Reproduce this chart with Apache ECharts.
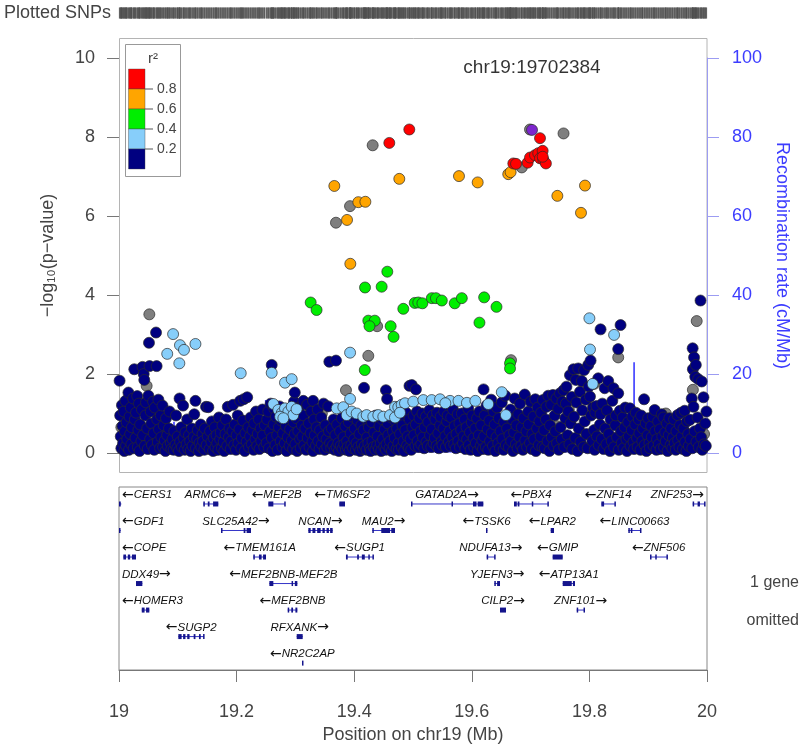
<!DOCTYPE html>
<html><head><meta charset="utf-8">
<script src="https://cdn.jsdelivr.net/npm/echarts@6/dist/echarts.min.js"></script>
<style>html,body{margin:0;padding:0;background:#fff}#c{width:800px;height:746px}</style>
</head><body><div id="c"></div>
<script>
// ---------------- DATA ----------------
const xRange = [19, 20];
const pTickMax = 10;
const recTickMax = 100;
const indexSnpName = 'chr19:19702384';
const indexSnp = [[19.702384, 8.18]];

const snpNavy = [
[19.001,1.83],[19.002,0.95],[19.003,0.42],[19.004,0.12],[19.005,1.21],[19.006,0.68],[19.007,0.25],[19.008,1.05],[19.009,0.05],[19.010,0.55],[19.011,1.32],[19.012,0.18],[19.013,0.78],[19.014,0.35],[19.016,1.53],[19.017,0.08],[19.018,0.92],[19.019,0.48],[19.020,1.15],[19.021,0.22],[19.022,0.65],[19.024,1.38],[19.025,0.12],[19.026,2.12],[19.027,0.85],[19.028,0.38],[19.029,1.02],[19.031,1.44],[19.032,0.15],[19.033,0.58],[19.034,1.25],[19.035,0.05],[19.036,0.72],[19.038,0.30],[19.039,1.10],[19.040,2.18],[19.041,0.45],[19.042,2.00],[19.043,1.85],[19.044,0.18],[19.045,0.95],[19.046,1.28],[19.048,0.62],[19.049,0.10],[19.050,1.45],[19.051,2.79],[19.052,2.20],[19.053,0.35],[19.054,1.05],[19.055,0.75],[19.056,0.20],[19.058,1.30],[19.059,0.50],[19.060,0.08],[19.061,1.15],[19.063,3.05],[19.064,2.20],[19.065,0.85],[19.066,0.28],[19.067,1.35],[19.068,0.60],[19.070,0.12],[19.071,0.95],[19.072,0.40],[19.074,1.20],[19.075,0.15],[19.076,0.70],[19.078,0.32],[19.079,0.05],[19.080,0.88],[19.082,0.45],[19.083,0.18],[19.085,0.62],[19.086,1.05],[19.088,0.25],[19.089,0.10],
[19.091,0.35],[19.093,0.08],[19.094,0.55],[19.096,0.20],[19.097,0.95],[19.099,0.12],[19.100,0.42],[19.102,0.05],[19.103,1.38],[19.104,0.28],[19.106,0.65],[19.107,0.15],[19.109,1.20],[19.110,0.38],[19.112,0.08],[19.113,0.52],[19.115,0.22],[19.116,0.85],[19.118,0.10],[19.119,0.45],[19.121,0.30],[19.122,0.05],[19.124,0.62],[19.125,0.18],[19.127,0.40],[19.128,0.98],[19.130,1.32],[19.131,0.12],[19.133,0.35],[19.134,0.58],[19.136,0.05],[19.137,0.25],[19.139,0.72],[19.140,0.15],[19.142,0.48],[19.143,0.30],[19.145,0.08],[19.146,0.62],[19.148,1.17],[19.149,0.20],[19.151,0.42],[19.152,1.16],[19.154,0.10],[19.155,0.55],[19.157,0.28],[19.158,0.80],[19.160,0.05],[19.161,0.38],[19.163,0.65],[19.164,0.15],[19.166,0.45],[19.167,0.25],[19.169,0.08],[19.170,0.90],[19.172,0.35],[19.173,0.52],[19.175,0.12],[19.176,0.70],[19.178,0.28],[19.179,0.05],[19.181,0.48],[19.182,0.85],[19.184,0.18],[19.185,1.17],[19.187,0.40],[19.188,0.62],[19.190,0.10],[19.191,0.30],[19.193,0.55],[19.194,1.22],[19.196,0.20],[19.197,0.72],[19.199,0.08],[19.200,0.45],[19.202,0.95],[19.203,0.25],[19.205,0.60],[19.206,1.32],[19.208,0.12],[19.209,0.38],[19.211,0.82],[19.212,1.36],[19.214,0.05],[19.215,0.50],[19.217,0.28],[19.218,1.41],[19.220,0.65],[19.221,0.15],[19.223,0.42],[19.224,0.90],[19.226,0.22],[19.227,0.58],[19.229,0.08],[19.230,0.75],[19.232,0.35],[19.233,1.05],[19.235,0.18],[19.236,0.48],[19.238,0.85],[19.239,0.10],[19.241,0.62],[19.242,0.30],[19.244,1.10],[19.245,0.45],[19.247,0.15],[19.248,0.70],
[19.251,0.25],[19.252,0.85],[19.254,1.05],[19.255,0.12],[19.257,0.55],[19.258,1.25],[19.2597,2.23],[19.260,0.38],[19.261,0.05],[19.263,0.72],[19.264,1.12],[19.266,0.20],[19.267,0.92],[19.269,0.45],[19.270,0.08],[19.272,0.65],[19.273,1.18],[19.275,0.30],[19.276,0.82],[19.278,0.15],[19.279,0.50],[19.281,1.02],[19.282,0.25],[19.284,0.68],[19.285,0.05],[19.287,0.40],[19.288,0.95],[19.290,0.18],[19.291,0.60],[19.293,1.08],[19.294,0.32],[19.296,0.10],[19.2976,1.30],[19.297,0.78],[19.299,1.53],[19.299,0.48],[19.300,0.22],[19.302,0.88],[19.303,0.05],[19.305,0.55],[19.306,1.15],[19.308,0.35],[19.309,0.12],[19.311,0.70],[19.312,0.42],[19.3135,1.32],[19.314,0.95],[19.315,0.20],[19.317,0.62],[19.318,0.08],[19.320,1.22],[19.321,0.38],[19.323,0.75],[19.324,0.15],[19.326,0.50],[19.327,1.05],[19.329,0.28],[19.330,1.32],[19.330,0.05],[19.332,0.85],[19.333,0.45],[19.335,0.18],[19.336,0.65],[19.338,1.10],[19.339,0.30],[19.341,0.10],[19.342,0.58],[19.344,0.90],[19.345,0.22],[19.347,0.42],[19.348,1.25],[19.350,0.08],[19.351,0.70],[19.353,0.35],[19.354,0.15],[19.356,1.18],[19.357,0.55],[19.3577,2.31],[19.359,0.25],
[19.361,0.12],[19.362,0.62],[19.364,0.20],[19.365,0.85],[19.367,0.08],[19.368,0.45],[19.369,2.34],[19.370,0.15],[19.371,0.72],[19.373,0.25],[19.374,0.05],[19.376,0.55],[19.377,0.18],[19.379,0.88],[19.380,0.10],[19.382,0.40],[19.383,0.22],[19.385,0.68],[19.386,0.08],[19.388,0.30],[19.389,0.15],[19.391,0.78],[19.392,0.05],[19.394,0.50],[19.395,0.20],[19.397,0.92],[19.398,0.12],[19.400,0.35],[19.401,0.62],[19.403,0.08],[19.404,0.25],[19.406,0.82],[19.407,0.15],[19.409,0.48],[19.410,0.05],[19.412,0.70],[19.413,0.22],[19.415,0.10],[19.416,0.58],[19.4167,1.65],[19.418,0.18],[19.419,0.88],[19.421,0.08],[19.422,0.40],[19.424,0.25],[19.425,0.65],[19.427,0.12],[19.428,0.05],[19.430,0.78],[19.431,0.30],[19.433,0.15],[19.434,0.52],[19.436,0.08],[19.437,0.95],[19.439,0.20],[19.440,0.42],[19.442,0.10],[19.443,0.68],[19.445,0.25],[19.446,0.05],[19.448,0.85],[19.449,0.35],[19.451,0.15],[19.452,0.60],[19.454,1.59],[19.454,0.08],[19.455,0.22],[19.456,1.37],[19.457,0.75],[19.458,0.45],[19.460,0.12],[19.461,0.30],[19.463,0.90],[19.464,0.05],[19.466,0.55],[19.467,0.18],[19.469,0.38],[19.470,0.82],[19.472,0.10],[19.473,0.62],[19.475,0.25],[19.476,0.08],[19.478,0.48],[19.479,0.95],[19.481,0.15],[19.482,0.70],[19.484,0.30],[19.485,0.05],[19.487,0.58],[19.488,1.02],[19.490,0.20],[19.491,0.42],[19.493,0.12],[19.494,1.70],[19.494,0.85],[19.496,0.35],[19.497,0.08],[19.498,1.72],[19.499,0.65],
[19.501,0.95],[19.502,0.45],[19.504,0.18],[19.505,1.61],[19.505,0.72],[19.507,1.05],[19.508,0.30],[19.510,0.15],[19.511,0.88],[19.513,0.55],[19.514,0.22],[19.516,1.00],[19.517,0.40],[19.519,0.12],[19.520,0.65],[19.522,0.92],[19.523,0.28],[19.525,0.18],[19.526,0.78],[19.528,1.08],[19.529,0.45],[19.531,0.15],[19.532,0.60],[19.534,0.95],[19.535,0.25],[19.537,0.38],[19.538,0.85],[19.540,0.18],[19.541,1.02],[19.543,0.50],[19.544,0.12],[19.546,0.70],[19.547,0.92],[19.549,0.30],[19.550,0.20],[19.552,0.62],[19.553,1.05],[19.555,0.42],[19.556,0.15],[19.558,0.80],[19.559,0.95],[19.561,0.28],[19.562,0.55],[19.564,0.18],[19.565,0.90],[19.567,0.40],[19.568,1.10],[19.570,0.22],[19.571,0.68],[19.573,0.12],[19.574,0.48],[19.576,0.98],[19.577,0.30],[19.579,0.75],[19.580,0.15],[19.582,0.58],[19.583,1.00],[19.585,0.25],[19.586,0.42],[19.588,0.85],[19.589,0.10],[19.591,0.65],[19.592,0.35],[19.594,1.12],[19.595,0.20],[19.597,0.52],[19.598,0.08],[19.600,0.78],[19.601,0.95],[19.603,0.38],[19.604,0.15],[19.606,0.62],[19.607,0.25],[19.609,0.88],[19.610,0.05],[19.612,0.45],[19.613,1.05],[19.615,0.18],[19.616,0.70],[19.618,0.32],[19.619,0.10],[19.620,1.61],
[19.621,0.42],[19.622,0.95],[19.624,0.15],[19.625,1.20],[19.627,0.60],[19.628,0.08],[19.630,0.82],[19.631,0.30],[19.633,1.35],[19.634,0.50],[19.636,0.18],[19.637,1.05],[19.639,0.72],[19.640,0.05],[19.642,0.40],[19.643,1.15],[19.645,0.25],[19.646,0.88],[19.648,0.12],[19.649,0.55],[19.651,1.28],[19.652,0.35],[19.654,0.08],[19.655,0.78],[19.657,1.45],[19.658,0.20],[19.660,0.62],[19.661,0.95],[19.663,0.15],[19.664,0.45],[19.666,1.10],[19.667,0.30],[19.669,0.85],[19.670,0.05],[19.672,0.52],[19.673,1.38],[19.675,0.22],[19.676,0.70],[19.678,0.12],[19.679,0.98],[19.681,0.40],[19.682,1.25],[19.684,0.18],[19.685,0.65],[19.687,0.08],[19.688,0.88],[19.690,1.48],[19.691,0.32],[19.693,0.55],[19.694,0.15],[19.696,1.05],[19.697,0.72],[19.699,0.25],[19.700,1.30],[19.702,0.10],[19.703,0.48],[19.705,0.92],[19.706,0.35],[19.708,1.36],[19.709,0.05],[19.711,0.62],[19.712,1.15],[19.714,0.20],[19.715,0.80],[19.717,0.42],[19.718,1.02],[19.720,0.15],[19.721,1.34],
[19.723,0.58],[19.724,0.12],[19.726,0.85],[19.727,1.17],[19.729,0.30],[19.730,1.45],[19.732,0.05],[19.733,0.70],[19.735,1.22],[19.736,0.40],[19.738,1.47],[19.739,0.18],[19.741,0.95],[19.742,0.55],[19.744,1.38],[19.745,0.25],[19.747,1.12],[19.748,0.08],[19.750,1.51],[19.751,0.65],[19.753,0.35],[19.754,1.30],[19.756,1.59],[19.757,0.15],[19.759,0.88],[19.760,1.25],[19.761,1.68],[19.763,0.45],[19.764,1.05],[19.766,0.22],[19.767,1.97],[19.768,0.75],[19.770,1.42],[19.771,0.10],[19.773,2.12],[19.774,0.92],[19.776,0.38],[19.777,1.85],[19.778,1.28],[19.780,0.05],[19.781,2.14],[19.782,0.62],[19.784,1.55],[19.785,0.28],[19.787,1.82],[19.788,1.08],[19.790,0.15],[19.791,2.10],[19.792,0.80],[19.794,1.35],[19.795,0.48],[19.797,0.12],[19.798,2.23],[19.799,1.68],[19.801,1.43],[19.802,2.34],[19.803,0.95],[19.805,0.30],[19.806,1.15],[19.808,0.58],[19.809,0.08],[19.810,1.02],[19.812,1.19],[19.813,0.42],[19.815,1.89],[19.816,0.20],[19.818,0.72],[19.819,3.13],[19.819,0.98],
[19.821,0.35],[19.822,1.25],[19.824,0.10],[19.826,1.64],[19.827,0.62],[19.829,0.22],[19.830,1.08],[19.832,1.82],[19.833,0.48],[19.835,0.05],[19.836,0.85],[19.838,0.30],[19.839,1.32],[19.841,1.64],[19.842,0.15],[19.844,0.70],[19.845,0.95],[19.847,0.40],[19.849,1.51],[19.849,2.63],[19.850,0.08],[19.852,1.07],[19.853,3.24],[19.854,0.55],[19.855,0.25],[19.857,0.90],[19.858,0.12],[19.860,0.65],[19.861,1.15],[19.863,0.35],[19.864,0.05],[19.866,0.78],[19.867,0.42],[19.869,1.13],[19.870,0.18],[19.872,0.58],[19.873,0.92],[19.875,0.28],[19.876,0.10],[19.878,0.72],[19.879,1.02],[19.881,0.38],[19.882,0.15],[19.884,0.85],[19.885,0.50],[19.887,0.08],[19.888,0.95],[19.890,0.30],[19.891,0.62],[19.893,1.36],[19.894,0.20],[19.896,0.75],[19.897,0.05],[19.899,0.45],[19.900,0.88],[19.902,0.25],[19.903,0.12],[19.905,0.68],[19.906,0.40],[19.908,0.92],[19.909,0.18],[19.911,1.09],[19.912,0.55],[19.914,0.08],[19.915,0.35],[19.917,0.80],[19.918,0.22],[19.920,0.60],[19.921,0.10],[19.923,0.98],[19.924,0.42],[19.926,0.90],[19.927,0.15],[19.929,0.52],[19.930,0.30],[19.932,0.75],[19.933,0.05],[19.935,0.45],[19.936,0.88],[19.938,0.20],[19.939,0.62],[19.941,0.12],[19.942,0.38],[19.944,0.85],[19.945,0.25],[19.947,0.08],[19.948,0.55],[19.950,0.96],[19.951,0.32],[19.953,0.15],[19.954,0.70],[19.956,1.02],[19.957,0.42],[19.959,0.10],[19.960,0.62],[19.962,1.07],[19.963,0.28],[19.965,0.05],[19.966,0.80],[19.968,0.48],[19.969,0.18],
[19.971,0.84],[19.972,0.35],[19.974,1.38],[19.975,0.12],[19.9756,2.65],[19.976,2.12],[19.977,1.17],[19.978,2.42],[19.979,0.55],[19.980,1.93],[19.981,2.23],[19.982,0.28],[19.984,0.90],[19.985,1.87],[19.986,0.15],[19.988,0.62],[19.989,3.86],[19.990,0.40],[19.991,1.81],[19.992,0.08],[19.994,1.41],[19.995,0.22],[19.997,0.75],[19.998,0.18],[19.999,1.05]
];
const snpGray = [
[19.0516,3.51],[19.047,1.70],[19.3929,6.25],[19.369,5.83],[19.4314,7.79],[19.439,3.21],[19.424,2.46],[19.386,1.59],[19.6667,2.35],[19.685,7.23],[19.699,8.19],[19.756,8.09],[19.9825,3.34],[19.849,2.42],
[19.004,0.65],[19.012,1.00],[19.021,0.85],[19.035,0.40],[19.046,0.20],[19.058,0.15],[19.069,0.45],[19.085,0.30],[19.100,0.12],[19.120,0.25],[19.140,0.18],[19.165,0.08],[19.190,0.35],[19.210,0.15],[19.238,0.22],[19.262,0.95],[19.277,0.40],[19.290,1.10],[19.305,0.28],[19.325,0.15],[19.345,1.00],[19.370,0.30],[19.400,0.12],[19.432,0.45],[19.455,0.25],[19.470,1.05],[19.510,0.28],[19.525,0.62],[19.548,0.85],[19.565,1.20],[19.585,0.55],[19.600,0.32],[19.618,0.65],[19.640,0.22],[19.660,0.55],[19.675,1.00],[19.690,1.45],[19.705,0.38],[19.725,1.30],[19.745,0.68],[19.765,1.10],[19.780,2.00],[19.790,0.45],[19.808,1.75],[19.830,0.28],[19.850,0.72],[19.870,0.85],[19.890,0.45],[19.910,0.25],[19.930,1.00],[19.950,0.58],[19.965,0.35],[19.976,1.60],[19.980,0.20],[19.995,0.48]
];
const snpLightBlue = [
[19.082,2.51],[19.092,3.01],[19.1026,2.27],[19.1037,2.73],[19.1105,2.61],[19.130,2.76],[19.207,2.02],[19.2597,2.03],[19.2823,1.78],[19.2937,1.87],
[19.2625,1.24],[19.271,1.09],[19.2767,1.01],[19.2823,1.13],[19.288,1.05],[19.2937,1.17],[19.2964,0.96],[19.274,0.92],[19.2795,0.88],[19.302,1.11],
[19.3702,1.13],[19.3815,1.16],[19.3872,0.96],[19.3957,1.05],[19.4042,1.00],[19.4155,0.92],[19.4212,0.96],[19.4325,0.92],[19.441,0.96],[19.4495,0.92],[19.4609,0.96],[19.4694,1.17],[19.475,1.16],[19.4807,1.22],[19.4864,1.26],[19.4694,0.90],[19.4779,1.02],
[19.393,2.54],[19.393,1.37],[19.5005,1.30],[19.5175,1.34],[19.5318,1.34],[19.546,1.36],[19.563,1.32],[19.5774,1.32],[19.5917,1.27],[19.606,1.32],[19.555,1.26],
[19.628,1.24],[19.651,1.54],[19.658,0.96],[19.800,3.41],[19.801,2.62],[19.842,2.99],[19.8056,1.75]
];
const snpGreen = [
[19.326,3.81],[19.336,3.62],[19.4563,4.59],[19.4184,4.19],[19.4467,4.21],[19.4835,3.65],[19.503,3.80],[19.509,3.81],[19.516,3.79],[19.532,3.92],[19.539,3.92],[19.549,3.86],[19.571,3.79],[19.583,3.92],[19.621,3.94],[19.642,3.70],[19.613,3.30],[19.424,3.35],[19.435,3.35],[19.426,3.21],[19.462,3.21],[19.467,2.94],[19.418,2.10],[19.665,2.27],[19.665,2.14]
];
const snpOrange = [
[19.3662,6.76],[19.4767,6.94],[19.5782,7.01],[19.610,6.85],[19.662,7.06],[19.666,7.11],[19.407,6.35],[19.419,6.36],[19.3878,5.90],[19.3934,4.79],[19.7925,6.77],[19.7455,6.51],[19.7857,6.08]
];
const snpRed = [
[19.4937,8.19],[19.4597,7.85],[19.716,7.97],[19.6706,7.33],[19.6752,7.32],[19.695,7.35],[19.699,7.48],[19.7075,7.54],[19.713,7.59],[19.7205,7.65],[19.716,7.46],[19.7216,7.43],[19.726,7.33],[19.7206,7.50]
];

// recombination rate (cM/Mb)
const recombPos  = [19.000,19.0413,19.0414,19.0669,19.072,19.0934,19.0935,19.0936,19.2494,19.2495,19.2496,19.40,19.55,19.60,19.62,19.70,19.78,19.8759,19.876,19.8761,19.95,20.0];
const recombRate = [0.6,0.6,11.7,11.7,0.5,0.5,7.9,0.4,0.4,13.4,0.3,0.2,0.3,0.3,0.6,0.4,0.3,0.4,23.0,0.5,0.3,0.4];

// LD legend
const ldColors = ['#FF0000','#FFA500','#00EE00','#87CEFA','#000080'];
const ldLabels = ['0.8','0.6','0.4','0.2'];

// genes
const geneNames = ['CERS1','ARMC6','MEF2B','TM6SF2','GATAD2A','PBX4','ZNF14','ZNF253',
 'GDF1','SLC25A42','NCAN','MAU2','TSSK6','LPAR2','LINC00663',
 'COPE','TMEM161A','SUGP1','NDUFA13','GMIP','ZNF506',
 'DDX49','MEF2BNB-MEF2B','YJEFN3','ATP13A1',
 'HOMER3','MEF2BNB','CILP2','ZNF101',
 'SUGP2','RFXANK','NR2C2AP'];
const geneRows = [1,1,1,1,1,1,1,1, 2,2,2,2,2,2,2, 3,3,3,3,3,3, 4,4,4,4, 5,5,5,5, 6,6, 7];
const geneStrands = [-1,1,-1,-1,1,-1,-1,1, -1,1,1,1,-1,-1,-1, -1,-1,-1,1,-1,-1, 1,-1,1,-1, -1,-1,1,1, -1,1, -1];
const geneStarts = [19.000,19.1434,19.254,19.3747,19.4966,19.6718,19.8203,19.9756,
 19.000,19.1735,19.322,19.4308,19.6241,19.7342,19.8662,
 19.0074,19.2284,19.386,19.6253,19.7375,19.9031,
 19.0289,19.2557,19.6383,19.7546,
 19.0387,19.2869,19.648,19.7784,
 19.1009,19.3022,19.3112];
const geneEnds = [19.004,19.1689,19.2823,19.3844,19.6196,19.7301,19.8435,19.9966,
 19.003,19.2245,19.3634,19.4694,19.6264,19.7398,19.8872,
 19.0289,19.25,19.4325,19.6395,19.7546,19.9325,
 19.0397,19.3033,19.648,19.7755,
 19.0516,19.3033,19.6582,19.7914,
 19.1446,19.3124,19.3124];
const geneExons = [
 [[19.000,19.003]],[[19.1434,19.146],[19.151,19.154],[19.160,19.1689]],[[19.254,19.2625],[19.281,19.2823]],[[19.3747,19.3844]],
 [[19.4966,19.498],[19.5655,19.5665],[19.602,19.608],[19.610,19.6196]],[[19.6718,19.6765],[19.678,19.681],[19.702,19.7035],[19.7285,19.7301]],
 [[19.8203,19.825],[19.8425,19.8435]],[[19.9756,19.977],[19.984,19.988],[19.995,19.9966]],
 [[19.000,19.002]],[[19.1735,19.175],[19.212,19.215],[19.217,19.2245]],
 [[19.322,19.326],[19.329,19.334],[19.337,19.343],[19.346,19.350],[19.353,19.357],[19.359,19.3634]],
 [[19.4308,19.432],[19.446,19.461],[19.463,19.4694]],[[19.6241,19.6264]],[[19.7342,19.7398]],[[19.8662,19.868],[19.8705,19.8725],[19.886,19.8872]],
 [[19.0074,19.012],[19.015,19.019],[19.022,19.0289]],[[19.2284,19.231],[19.238,19.2425],[19.245,19.25]],
 [[19.386,19.389],[19.405,19.408],[19.413,19.418],[19.424,19.426],[19.431,19.4325]],[[19.6253,19.6265],[19.638,19.6395]],[[19.7375,19.7546]],
 [[19.9031,19.905],[19.912,19.9135],[19.931,19.9325]],
 [[19.0289,19.0397]],[[19.2557,19.2625],[19.2935,19.2955],[19.299,19.3033]],[[19.6383,19.6405],[19.643,19.648]],[[19.7546,19.770],[19.772,19.7755]],
 [[19.0387,19.0435],[19.046,19.0516]],[[19.2869,19.289],[19.293,19.296],[19.300,19.3033]],[[19.648,19.6582]],[[19.7784,19.7795],[19.790,19.7914]],
 [[19.1009,19.1065],[19.109,19.113],[19.116,19.12],[19.127,19.130],[19.136,19.139],[19.143,19.1446]],[[19.3022,19.3124]],[[19.3112,19.3124]]
];

// ---------------- CHART ----------------
const FONT = '"Liberation Sans", Arial, Helvetica, sans-serif';
const TXT = '#444';
const chart = echarts.init(document.getElementById('c'), null, {renderer:'canvas', width:800, height:746});

const allSnps = [].concat(snpGray, snpNavy, snpLightBlue, snpGreen, snpOrange, snpRed, indexSnp);
const rugData = allSnps.map(d => [d[0], 0.5]);

const mctx = document.createElement('canvas').getContext('2d');
const GENE_FONT = 'italic 11.5px ' + FONT;
const ARROW_FONT = '14px "DejaVu Sans", sans-serif';
mctx.font = ARROW_FONT;
const arrowW = mctx.measureText('←').width;
mctx.font = GENE_FONT;

function snpSeries(data, color, z) {
  return {type:'scatter', xAxisIndex:1, yAxisIndex:1, data:data, symbol:'circle', symbolSize:11, z:z,
    itemStyle:{color:color, borderColor:'#2a2a2a', borderWidth:0.7, opacity:1}, silent:true};
}

// legend graphic built from ldColors / ldLabels
const legendEls = [
  {type:'rect', shape:{x:125.5, y:44.5, width:55, height:132}, style:{fill:'#fff', stroke:'#999', lineWidth:1}},
  {type:'text', x:153, y:59, style:{text:'r²', font:'15px ' + FONT, fill:TXT, align:'center', verticalAlign:'middle'}}
];
ldColors.forEach((c, i) => {
  legendEls.push({type:'rect', shape:{x:128.5, y:69 + i*20, width:16.5, height:20}, style:{fill:c, stroke:'#444', lineWidth:0.4}});
});
ldLabels.forEach((t, i) => {
  const y = 89 + i*20;
  legendEls.push({type:'line', shape:{x1:145, y1:y, x2:153, y2:y}, style:{stroke:'#555', lineWidth:1}});
  legendEls.push({type:'text', x:157, y:y, style:{text:t, font:'14px ' + FONT, fill:TXT, align:'left', verticalAlign:'middle'}});
});

const option = {
  animation:false,
  backgroundColor:'#fff',
  textStyle:{fontFamily:FONT},
  grid:[
    {left:119, width:588, top:7, height:12, show:false},
    {left:119, width:588, top:58, height:395, show:false},
    {left:119, width:588, top:487, height:183, show:true, borderColor:'#888', borderWidth:1, backgroundColor:'transparent'}
  ],
  xAxis:[
    {gridIndex:0, type:'value', min:xRange[0], max:xRange[1], show:false},
    {gridIndex:1, type:'value', min:xRange[0], max:xRange[1], show:false},
    {gridIndex:2, type:'value', min:xRange[0], max:xRange[1], interval:0.2, position:'bottom',
      axisLine:{show:true, onZero:false, lineStyle:{color:'#777', width:1}},
      axisTick:{show:true, length:12, inside:false, lineStyle:{color:'#777'}},
      axisLabel:{fontSize:18, color:TXT, margin:33, fontFamily:FONT},
      splitLine:{show:false},
      name:'Position on chr19 (Mb)', nameLocation:'middle', nameGap:56,
      nameTextStyle:{fontSize:18, color:TXT, fontFamily:FONT}}
  ],
  yAxis:[
    {gridIndex:0, type:'value', min:0, max:1, show:false},
    {gridIndex:1, type:'value', min:0, max:pTickMax, interval:2, position:'left',
      axisLine:{show:false}, axisTick:{show:true, length:12, lineStyle:{color:'#777'}},
      axisLabel:{fontSize:18, color:TXT, margin:24, fontFamily:FONT},
      splitLine:{show:false},
      name:'−log₁₀(p−value)', nameLocation:'middle', nameGap:62,
      nameTextStyle:{fontSize:18, color:TXT, fontFamily:FONT}},
    {gridIndex:1, type:'value', min:0, max:recTickMax, interval:20, position:'right',
      axisLine:{show:true, onZero:false, lineStyle:{color:'#9c9cf2', width:1}},
      axisTick:{show:true, length:12, lineStyle:{color:'#9c9cf2'}},
      axisLabel:{fontSize:18, color:'#3c3cff', margin:25, fontFamily:FONT},
      splitLine:{show:false},
      name:'Recombination rate (cM/Mb)', nameLocation:'middle', nameGap:62, nameRotate:-90,
      nameTextStyle:{fontSize:18, color:'#3c3cff', fontFamily:FONT}},
    {gridIndex:2, type:'value', min:0.36, max:7.26, inverse:true, show:false}
  ],
  graphic:[
    {type:'rect', z:0, shape:{x:119.5, y:38.5, width:587.5, height:434}, style:{fill:'none', stroke:'#b4b4b4', lineWidth:1}, silent:true},
    {type:'text', x:4, y:13, style:{text:'Plotted SNPs', font:'18px ' + FONT, fill:TXT, align:'left', verticalAlign:'middle'}},
    {type:'text', x:799, y:583, style:{text:'1 gene', font:'16px ' + FONT, fill:TXT, align:'right', verticalAlign:'middle'}},
    {type:'text', x:799, y:621, style:{text:'omitted', font:'16px ' + FONT, fill:TXT, align:'right', verticalAlign:'middle'}},
    {type:'group', z:10, children:legendEls}
  ],
  series:[
    {type:'scatter', xAxisIndex:0, yAxisIndex:0, data:rugData, symbol:'rect', symbolSize:[1.4,11],
      itemStyle:{color:'#4f4f4f'}, silent:true},
    {type:'line', xAxisIndex:1, yAxisIndex:2, data:recombPos.map((p,i)=>[p, recombRate[i]]),
      showSymbol:false, symbol:'none', lineStyle:{color:'#3c3cff', width:1.6}, z:1, silent:true},
    snpSeries(snpGray, '#7f7f7f', 2),
    snpSeries(snpNavy, '#000080', 3),
    snpSeries(snpLightBlue, '#87CEFA', 4),
    snpSeries(snpGreen, '#00EE00', 5),
    snpSeries(snpOrange, '#FFA500', 6),
    snpSeries(snpRed, '#FF0000', 7),
    snpSeries(indexSnp, '#7D26CD', 8),
    {type:'scatter', xAxisIndex:1, yAxisIndex:1, data:[[indexSnp[0][0], 9.75]], symbolSize:1,
      itemStyle:{color:'rgba(0,0,0,0)', borderWidth:0}, z:9, silent:true,
      label:{show:true, position:'inside', formatter:indexSnpName, fontSize:19, color:'#000', fontFamily:FONT}},
    {type:'custom', xAxisIndex:2, yAxisIndex:3, silent:true, z:5,
      data:geneNames.map((n,i)=>[(geneStarts[i]+geneEnds[i])/2, geneRows[i], i]),
      renderItem:function(params, api){
        const i = api.value(2);
        const row = geneRows[i];
        const p0 = api.coord([geneStarts[i], row]);
        const p1 = api.coord([geneEnds[i], row]);
        const ch = [];
        ch.push({type:'line', shape:{x1:p0[0], y1:p0[1], x2:Math.max(p1[0], p0[0]+1), y2:p1[1]},
          style:{stroke:'#3535c8', lineWidth:1}});
        geneExons[i].forEach(ex => {
          const a = api.coord([ex[0], row]), b = api.coord([ex[1], row]);
          ch.push({type:'rect', shape:{x:a[0], y:a[1]-2.5, width:Math.max(b[0]-a[0], 1.5), height:5},
            style:{fill:'#14148c'}});
        });
        const plus = geneStrands[i] > 0;
        const label = plus ? geneNames[i] + '{a|→}' : '{a|←}' + geneNames[i];
        const w = mctx.measureText(geneNames[i]).width + arrowW;
        let cx = (p0[0] + p1[0]) / 2;
        cx = Math.max(119 + w/2 + 3, Math.min(707 - w/2 - 3, cx));
        ch.push({type:'text', x:cx, y:p0[1]-9, style:{text:label, font:GENE_FONT, fill:'#111', align:'center', verticalAlign:'middle',
          rich:{a:{fontSize:14, fontFamily:'"DejaVu Sans", sans-serif', fontStyle:'normal', fill:'#111', color:'#111'}}}});
        return {type:'group', children:ch};
      }
    }
  ]
};
chart.setOption(option);
</script>
</body></html>
